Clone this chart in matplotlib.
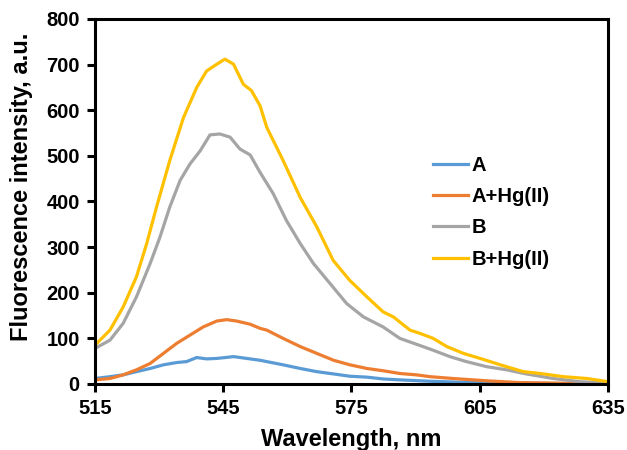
import matplotlib
matplotlib.use("Agg")
import matplotlib.pyplot as plt

plt.rcParams['font.family'] = ['Liberation Sans', 'DejaVu Sans']
plt.rcParams['font.weight'] = 'bold'

# Series A
wl_a = [515, 518.5, 521.6, 524.7, 527.9, 531, 534.1, 536.4, 538.8, 541.1, 543.5, 545.5, 547.4,
        550.5, 553.6, 555.2, 559, 563, 566.9, 570.8, 574.6, 578.6, 582.4, 586.3, 593.4,
        600, 607, 615, 622, 628, 635]
val_a = [12, 16, 20, 27, 34, 42, 47, 49, 58, 55, 56, 58, 60,
         56, 52, 49, 42, 34, 27, 22, 17, 15, 11, 9, 6,
         4, 3, 2, 1, 1, 0]

# Series A+Hg(II)
wl_ahg = [515, 518.5, 521.6, 524.7, 527.9, 531, 534.1, 537.2, 540.3, 543.5, 545.8, 548.1,
          551.3, 553.6, 555.2, 559, 563, 566.9, 570.8, 574.6, 578.6, 582.4, 586.3, 590.2,
          593.4, 598.8, 606.6, 614.4, 622, 628, 635]
val_ahg = [9, 12, 20, 31, 45, 67, 89, 107, 125, 138, 141, 138,
           131, 122, 118, 100, 82, 67, 52, 42, 34, 29, 23, 20,
           16, 12, 7, 3, 2, 1, 1]

# Series B
wl_b = [515, 518.5, 521.6, 524.7, 527.9, 530.2, 532.5, 534.9, 537.2, 539.6, 541.9, 544.2,
        546.6, 548.9, 551.3, 553.6, 556.7, 559.8, 563, 566.1, 570, 573.9, 577.8, 582.4,
        586.3, 590.2, 594.1, 598, 601.9, 606.6, 611.3, 615.9, 622.2, 628.4, 635]
val_b = [78, 96, 133, 191, 264, 322, 388, 446, 482, 511, 546, 548,
         541, 515, 502, 464, 417, 358, 308, 264, 220, 176, 147, 125,
         100, 87, 74, 60, 49, 38, 31, 22, 12, 5, 2]

# Series B+Hg(II)
wl_bhg = [515, 518.5, 521.6, 524.7, 527.1, 529.4, 532.5, 535.7, 538.8, 541.1, 543.5, 545.4,
          547.4, 549.7, 551.6, 553.6, 555.2, 559, 563, 566.9, 570.7, 574.6, 578.6, 582.4,
          584.8, 588.7, 591, 594.1, 597.3, 601.2, 605.1, 609.8, 615.2, 619.2, 624.6, 630.1, 635]
val_bhg = [85, 118, 169, 235, 308, 388, 490, 584, 650, 686, 701, 712,
           701, 657, 643, 610, 562, 490, 409, 344, 271, 227, 191, 158,
           147, 118, 111, 100, 82, 67, 56, 42, 27, 23, 16, 12, 5]

x_ticks = [515, 545, 575, 605, 635]
y_ticks = [0, 100, 200, 300, 400, 500, 600, 700, 800]

fig = plt.figure(figsize=(6.27, 4.5), dpi=100)
ax = fig.add_axes([0.1515, 0.1467, 0.8182, 0.8111])

lw = 2.3
ax.plot(wl_a, val_a, color='#5B9BD5', lw=lw, label='A')
ax.plot(wl_ahg, val_ahg, color='#ED7D31', lw=lw, label='A+Hg(II)')
ax.plot(wl_b, val_b, color='#A5A5A5', lw=lw, label='B')
ax.plot(wl_bhg, val_bhg, color='#FFC000', lw=lw, label='B+Hg(II)')

ax.set_xlim(515, 635)
ax.set_ylim(0, 800)
ax.set_xticks(x_ticks)
ax.set_yticks(y_ticks)
for s in ax.spines.values():
    s.set_linewidth(2.2)
ax.tick_params(axis='both', direction='out', length=6, width=2.2, labelsize=14.5, pad=5)
for lab in ax.get_xticklabels() + ax.get_yticklabels():
    lab.set_fontweight('bold')

ax.set_xlabel('Wavelength, nm', fontsize=17, fontweight='bold', labelpad=7)
ax.set_ylabel('Fluorescence intensity, a.u.', fontsize=17, fontweight='bold')
ax.yaxis.set_label_coords(-0.121, 0.54)

leg = ax.legend(loc='center left', bbox_to_anchor=(0.624, 0.47), frameon=False,
                fontsize=14.5, handlelength=1.75, handletextpad=0.15, labelspacing=0.6)
for t in leg.get_texts():
    t.set_fontweight('bold')

fig.savefig('out.png', dpi=100)
